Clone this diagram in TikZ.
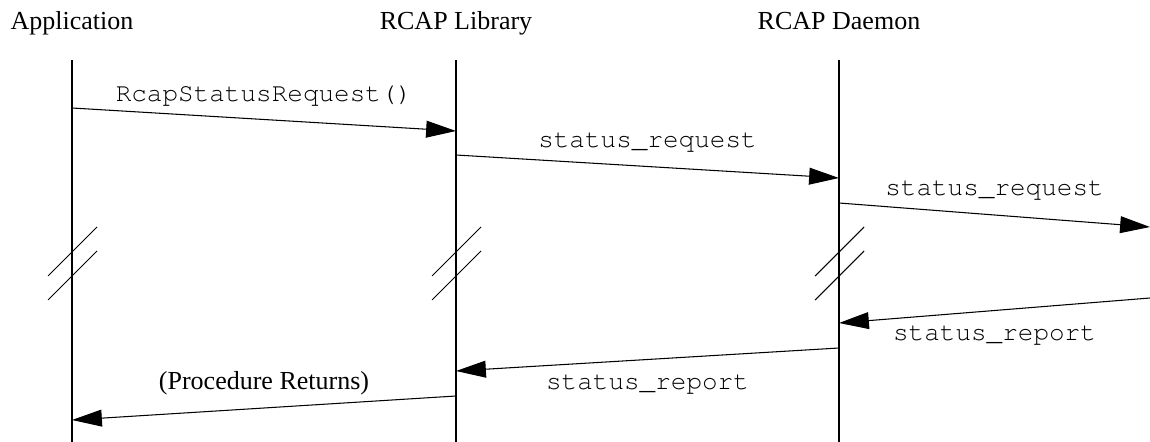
\documentclass[tikz,border=0pt]{standalone}
\usepackage{fontspec}
\setmainfont{Liberation Serif}
\usetikzlibrary{arrows.meta}
\newcommand{\crfont}{\fontencoding{T1}\fontfamily{pcr}\selectfont}

\begin{document}
\begin{tikzpicture}[x=0.02cm,y=-0.02cm,
  font=\fontsize{14.8}{17}\selectfont,
  life/.style={line width=0.85pt},
  msg/.style={line width=0.6pt,-{Triangle[length=17pt,width=9.6pt]}},
  brk/.style={line width=0.6pt},
  head/.style={anchor=base},
  up/.style={midway,yshift=13.9pt,font=\fontsize{14.8}{17}\crfont},
  down/.style={midway,yshift=-13.9pt,font=\fontsize{14.8}{17}\crfont}]
\useasboundingbox (0,0) rectangle (1150,442);
% Participants
\node[head] (app) at (72,30) {Application};
\node[head] (lib) at (456,30) {RCAP Library};
\node[head] (dmn) at (839,30) {RCAP Daemon};
\coordinate (peer) at (1150,30);
% Lifelines
\draw[life] (app |- 0,60) -- (app |- 0,442);
\draw[life] (lib |- 0,60) -- (lib |- 0,442);
\draw[life] (dmn |- 0,60) -- (dmn |- 0,442);
% Breaks
\draw[brk] (app |- 0,276) ++(-24,0) -- ++(49,-49) ++(-49,73) -- ++(49,-49);
\draw[brk] (lib |- 0,276) ++(-24,0) -- ++(49,-49) ++(-49,73) -- ++(49,-49);
\draw[brk] (dmn |- 0,276) ++(-24,0) -- ++(49,-49) ++(-49,73) -- ++(49,-49);
% Requests
\draw[msg] (app |- 0,108) -- node[up] {RcapStatusRequest()} (lib |- 0,131);
\draw[msg] (lib |- 0,155) -- node[up] {status\_request} (dmn |- 0,178);
\draw[msg] (dmn |- 0,203) -- node[up] {status\_request} (peer |- 0,227);
% Reports
\draw[msg] (peer |- 0,298) -- node[down] {status\_report} (dmn |- 0,323);
\draw[msg] (dmn |- 0,348) -- node[down] {status\_report} (lib |- 0,371);
\draw[msg] (lib |- 0,396) -- node[up,font=\fontsize{14.8}{17}\selectfont] {(Procedure Returns)} (app |- 0,420);
\end{tikzpicture}
\end{document}
